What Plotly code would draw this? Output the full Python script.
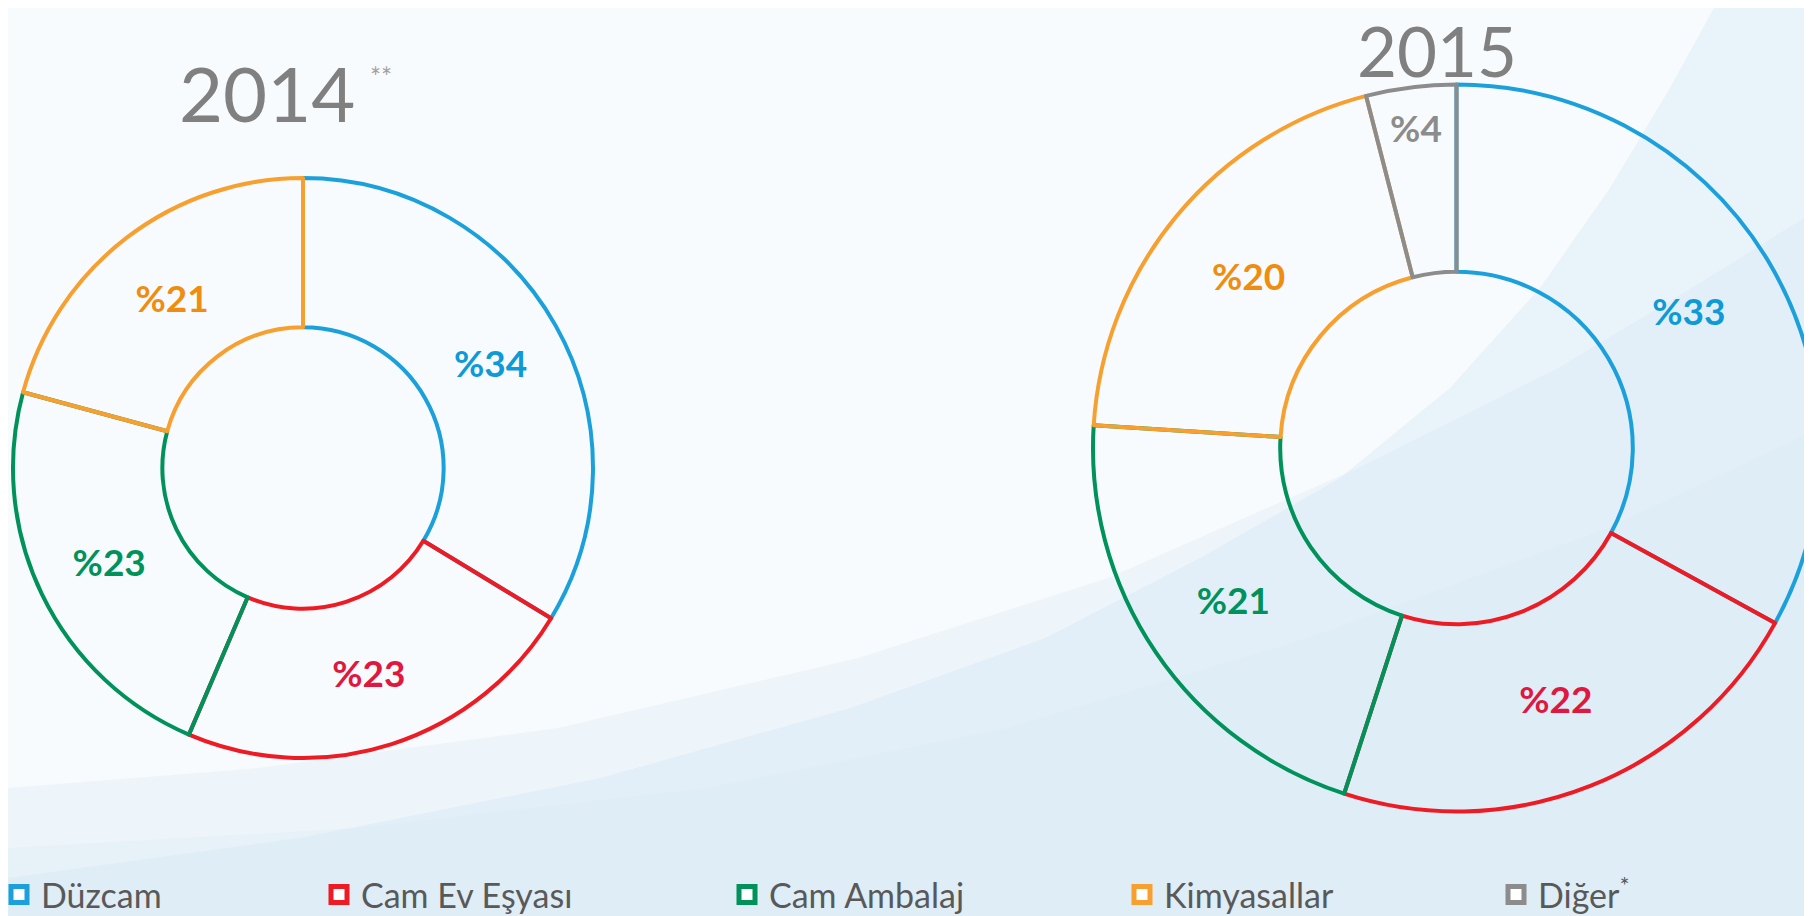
import plotly.graph_objects as go

# ---- data ----
labels_2014 = ["Düzcam", "Cam Ev Eşyası", "Cam Ambalaj", "Kimyasallar"]
values_2014 = [34, 23, 23, 21]
text_2014 = ["%34", "%23", "%23", "%21"]

labels_2015 = ["Düzcam", "Cam Ev Eşyası", "Cam Ambalaj", "Kimyasallar", "Diğer"]
values_2015 = [33, 22, 21, 20, 4]
text_2015 = ["%33", "%22", "%21", "%20", "%4"]

legend_labels = ["Düzcam", "Cam Ev Eşyası", "Cam Ambalaj", "Kimyasallar", "Diğer<sup>*</sup>"]
line_colors = ["#1BA0DC", "#ED1C24", "#00925A", "#F7A030", "#8C8C8C"]
text_colors = ["#0D9AD6", "#E0173F", "#00925A", "#F08C0F", "#8C8C8C"]

W, H = 1812, 916
FONT = "Lato"

fig = go.Figure()

def add_pie(labels, values, texts, dom_x, dom_y):
    n = len(values)
    fig.add_trace(go.Pie(
        labels=labels, values=values, text=texts,
        textinfo="text", textposition="inside",
        insidetextorientation="horizontal",
        hole=0.485, sort=False, direction="clockwise", rotation=0,
        domain=dict(x=dom_x, y=dom_y),
        marker=dict(colors=["rgba(255,255,255,0)"] * n,
                    line=dict(color=line_colors[:n], width=4)),
        insidetextfont=dict(family=FONT, size=37, color=text_colors[:n], weight="bold"),
        hoverinfo="label+percent", showlegend=False,
    ))

# 2014: centre (295, 460) r 290 px (figure coordinates)
add_pie(labels_2014, values_2014, text_2014,
        [5 / W, 585 / W], [(H - 460 - 290) / H, (H - 460 + 290) / H])
# 2015: centre ~ (1448, 440), right edge clipped by the page
add_pie(labels_2015, values_2015, text_2015,
        [1085 / W, 1.0], [(H - 440 - 364) / H, (H - 440 + 364) / H])

# legend entries (one legend box per category so they can be spaced like the original)
legend_x = [-11, 309, 717, 1112, 1486]
legend_layouts = {}
for i, (lab, col) in enumerate(zip(legend_labels, line_colors)):
    key = "legend" if i == 0 else f"legend{i + 1}"
    fig.add_trace(go.Scatter(
        x=[None], y=[None], mode="markers", name=lab,
        marker=dict(symbol="square", size=16, color="white",
                    line=dict(color=col, width=7)),
        legend=key, showlegend=True, hoverinfo="skip",
    ))
    legend_layouts[key] = dict(
        x=legend_x[i] / W, y=0, xanchor="left", yanchor="bottom",
        orientation="h", bgcolor="rgba(0,0,0,0)", itemwidth=34,
        font=dict(family=FONT, size=34, color="#595959"),
    )

# background swoosh shapes (decorative)
def P(pts):
    return "M " + " L ".join(f"{x / W:.4f},{1 - y / H:.4f}" for x, y in pts) + " Z"

shapes = [
    dict(type="path", xref="paper", yref="paper", layer="below", line=dict(width=0),
         fillcolor="rgba(214,233,246,0.45)",
         path=P([(1706, 0), (1662, 80), (1602, 180), (1532, 280), (1442, 380), (1332, 470),
                 (1192, 550), (1037, 630), (842, 700), (592, 770), (292, 830), (0, 870),
                 (0, 916), (1812, 916), (1812, 0)])),
    dict(type="path", xref="paper", yref="paper", layer="below", line=dict(width=0),
         fillcolor="rgba(214,233,246,0.30)",
         path=P([(1812, 200), (1700, 270), (1550, 360), (1350, 460), (1100, 570), (850, 650),
                 (550, 720), (250, 760), (0, 780), (0, 916), (1812, 916)])),
    dict(type="path", xref="paper", yref="paper", layer="below", line=dict(width=0),
         fillcolor="rgba(214,233,246,0.30)",
         path=P([(1812, 420), (1600, 520), (1300, 630), (1000, 720), (700, 780), (350, 820),
                 (0, 840), (0, 916), (1812, 916)])),
]

annotations = [
    dict(text="2014", x=259 / W, y=1 - 84.5 / H, xref="paper", yref="paper",
         showarrow=False, xanchor="center", yanchor="middle", borderpad=0,
         font=dict(family=FONT, size=76, color="#808080")),
    dict(text="**", x=373 / W, y=1 - 69 / H, xref="paper", yref="paper",
         showarrow=False, xanchor="center", yanchor="middle",
         font=dict(family=FONT, size=26, color="#A0A0A0")),
    dict(text="2015", x=1429 / W, y=1.0, xref="paper", yref="paper",
         showarrow=False, xanchor="center", yanchor="top", borderpad=0,
         font=dict(family=FONT, size=69, color="#808080")),
]

fig.update_layout(
    width=W, height=H,
    margin=dict(l=0, r=0, t=0, b=0, autoexpand=False),
    paper_bgcolor="#F8FBFD",
    plot_bgcolor="rgba(0,0,0,0)",
    xaxis=dict(visible=False), yaxis=dict(visible=False),
    shapes=shapes,
    annotations=annotations,
    showlegend=True,
    **legend_layouts,
)

fig.write_html("out.html")
